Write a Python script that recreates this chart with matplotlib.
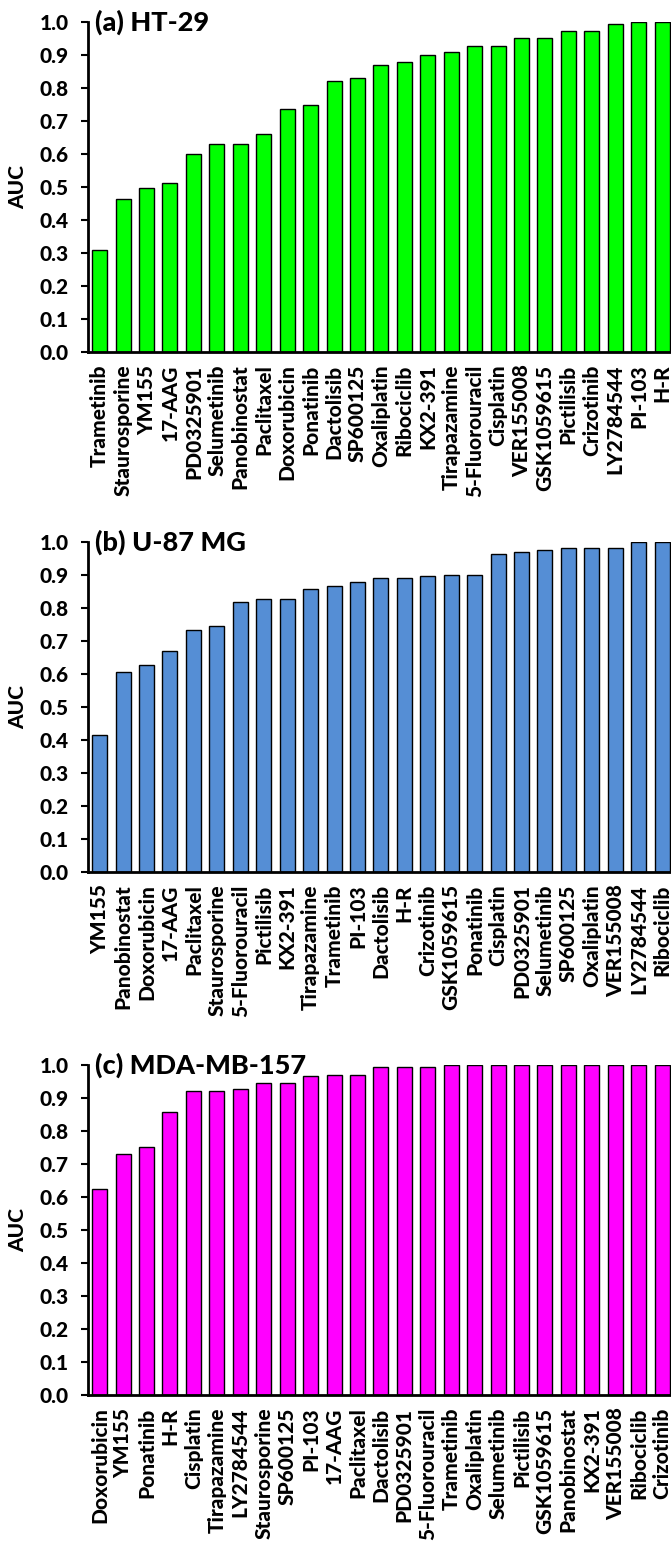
import numpy as np
import matplotlib as mpl
import matplotlib.pyplot as plt

mpl.rcParams['font.family'] = ['Lato', 'DejaVu Sans']
mpl.rcParams['font.weight'] = 900
mpl.rcParams['font.size'] = 15

# (a) HT-29
drugs_a = ['Trametinib', 'Staurosporine', 'YM155', '17-AAG', 'PD0325901', 'Selumetinib',
           'Panobinostat', 'Paclitaxel', 'Doxorubicin', 'Ponatinib', 'Dactolisib', 'SP600125',
           'Oxaliplatin', 'Ribociclib', 'KX2-391', 'Tirapazamine', '5-Fluorouracil', 'Cisplatin',
           'VER155008', 'GSK1059615', 'Pictilisib', 'Crizotinib', 'LY2784544', 'PI-103', 'H-R']
auc_a = [0.31, 0.464, 0.498, 0.513, 0.600, 0.631, 0.631, 0.660, 0.735, 0.748, 0.822, 0.831,
         0.870, 0.880, 0.899, 0.909, 0.928, 0.928, 0.953, 0.953, 0.973, 0.973, 0.993, 1.0, 1.0]

# (b) U-87 MG
drugs_b = ['YM155', 'Panobinostat', 'Doxorubicin', '17-AAG', 'Paclitaxel', 'Staurosporine',
           '5-Fluorouracil', 'Pictilisib', 'KX2-391', 'Tirapazamine', 'Trametinib', 'PI-103',
           'Dactolisib', 'H-R', 'Crizotinib', 'GSK1059615', 'Ponatinib', 'Cisplatin',
           'PD0325901', 'Selumetinib', 'SP600125', 'Oxaliplatin', 'VER155008', 'LY2784544',
           'Ribociclib']
auc_b = [0.416, 0.606, 0.626, 0.670, 0.734, 0.745, 0.818, 0.828, 0.828, 0.858, 0.867, 0.877,
         0.891, 0.891, 0.896, 0.901, 0.901, 0.964, 0.969, 0.975, 0.980, 0.980, 0.980, 1.0, 1.0]

# (c) MDA-MB-157
drugs_c = ['Doxorubicin', 'YM155', 'Ponatinib', 'H-R', 'Cisplatin', 'Tirapazamine',
           'LY2784544', 'Staurosporine', 'SP600125', 'PI-103', '17-AAG', 'Paclitaxel',
           'Dactolisib', 'PD0325901', '5-Fluorouracil', 'Trametinib', 'Oxaliplatin',
           'Selumetinib', 'Pictilisib', 'GSK1059615', 'Panobinostat', 'KX2-391', 'VER155008',
           'Ribociclib', 'Crizotinib']
auc_c = [0.623, 0.731, 0.751, 0.857, 0.921, 0.921, 0.926, 0.946, 0.946, 0.966, 0.970, 0.970,
         0.995, 0.995, 0.995, 1.0, 1.0, 1.0, 1.0, 1.0, 1.0, 1.0, 1.0, 1.0, 1.0]

panels = [
    ('(a) HT-29', drugs_a, auc_a, '#00ff00', 0.7717),
    ('(b) U-87 MG', drugs_b, auc_b, '#558ed5', 0.4346),
    ('(c) MDA-MB-157', drugs_c, auc_c, '#ff00ff', 0.0953),
]

fig = plt.figure(figsize=(6.71, 15.42), dpi=100)

for title, drugs, auc, colour, bottom in panels:
    ax = fig.add_axes([0.1311, bottom, 0.8689, 0.2140])
    x = np.arange(len(drugs))
    ax.bar(x, auc, width=0.64, color=colour, edgecolor='black', linewidth=1.0, zorder=2)
    ax.set_xlim(-0.5, len(drugs) - 1 + 0.38)
    ax.set_ylim(0, 1.0)
    ax.set_yticks(np.arange(0, 1.01, 0.1))
    ax.set_yticklabels(['{:.1f}'.format(v) for v in np.arange(0, 1.01, 0.1)])
    ax.set_xticks(x)
    ax.set_xticklabels(drugs, rotation=90)
    ax.tick_params(axis='x', length=0, pad=9)
    ax.tick_params(axis='y', direction='out', length=5, width=1.5, pad=9)
    for side in ['top', 'right']:
        ax.spines[side].set_visible(False)
    for side in ['left', 'bottom']:
        ax.spines[side].set_linewidth(2)
    ax.spines['bottom'].set_zorder(3)
    ax.set_ylabel('AUC', fontsize=15, fontweight=900)
    ax.yaxis.set_label_coords(-0.104, 0.5)
    ax.text(0.012, 1.0, title, transform=ax.transAxes, fontsize=19.5, fontweight=900,
            ha='left', va='center')

fig.savefig('out.png', dpi=100)
